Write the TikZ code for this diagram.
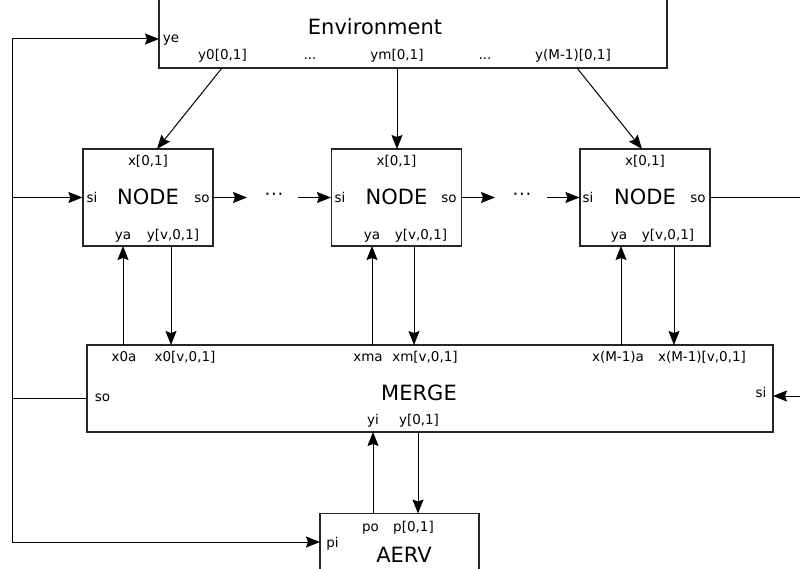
\documentclass[tikz,border=0pt]{standalone}
\usepackage{fontspec}
\setmainfont{DejaVu Sans}
\usetikzlibrary{arrows.meta}
\begin{document}
\begin{tikzpicture}[x=1pt,y=-1pt,
  box/.style={draw=black!85,line width=1.1pt,inner sep=0pt},
  lbl/.style={inner sep=0pt,anchor=base,font=\fontsize{13.5}{16}\selectfont},
  big/.style={inner sep=0pt,anchor=base,font=\fontsize{21}{24}\selectfont},
  wire/.style={line width=1pt},
  arr/.style={wire,-{Stealth[length=14pt,width=11pt,inset=2pt]}}]
\useasboundingbox (0,0) rectangle (800,569);
\clip (0,0) rectangle (800,569);

% boxes
\node[box,minimum width=508pt,minimum height=90pt] (env) at (413,23) {};
\node[box,minimum width=130pt,minimum height=97pt] (n1) at (148,197.5) {};
\node[box,minimum width=130pt,minimum height=97pt] (n2) at (396.5,197.5) {};
\node[box,minimum width=130pt,minimum height=97pt] (n3) at (645,197.5) {};
\node[box,minimum width=686pt,minimum height=87pt] (merge) at (430,388.5) {};
\node[box,minimum width=159pt,minimum height=90pt] (aerv) at (399.5,558.5) {};

% environment texts
\node[big] (envt) at (375,35) {Environment};
\node[lbl] (ye) at (171,43) {ye};
\node[lbl] (ey0) at (222.5,60) {y0[0,1]};
\node[lbl] (edots1) at (310,60) {...};
\node[lbl] (eym) at (397,60) {ym[0,1]};
\node[lbl] (edots2) at (485,60) {...};
\node[lbl] (eyM) at (573,60) {y(M-1)[0,1]};

% node texts
\foreach \n/\cx/\si/\so/\ya/\yv in {1/148/92/202/123/173, 2/396.5/340/449/372/421, 3/645/588/698/619/668}{
  \node[lbl] (x\n) at (\cx,166) {x[0,1]};
  \node[big] (t\n) at (\cx,205) {NODE};
  \node[lbl] (si\n) at (\si,203) {si};
  \node[lbl] (so\n) at (\so,203) {so};
  \node[lbl] (ya\n) at (\ya,240) {ya};
  \node[lbl] (yv\n) at (\yv,240) {y[v,0,1]};
}

% chain dots
\node[inner sep=0pt,font=\fontsize{18}{20}\selectfont] (cd1) at (274,197) {·\hspace{0.8pt}·\hspace{0.8pt}·};
\node[inner sep=0pt,font=\fontsize{18}{20}\selectfont] (cd2) at (522,197) {·\hspace{0.8pt}·\hspace{0.8pt}·};

% merge texts
\node[big] (mt) at (419,400.5) {MERGE};
\node[lbl] (mso) at (102.5,401.5) {so};
\node[lbl] (msi) at (761,397) {si};
\node[lbl] (mx0a) at (124,361) {x0a};
\node[lbl] (mx0) at (185,361) {x0[v,0,1]};
\node[lbl] (mxma) at (368,361) {xma};
\node[lbl] (mxm) at (425,361) {xm[v,0,1]};
\node[lbl] (mxMa) at (618,361) {x(M-1)a};
\node[lbl] (mxM) at (702,361) {x(M-1)[v,0,1]};
\node[lbl] (myi) at (373,424) {yi};
\node[lbl] (my) at (419,424) {y[0,1]};

% aerv texts
\node[big] (at) at (404,562) {AERV};
\node[lbl] (apo) at (370.5,531.5) {po};
\node[lbl] (ap) at (413.5,531.5) {p[0,1]};
\node[lbl] (api) at (332.5,547) {pi};

% port coordinates
\coordinate (bt) at (12,39);
\coordinate (b1) at (12,197.5);
\coordinate (b2) at (12,398);
\coordinate (bb) at (12,542);
\coordinate (envye) at (159,39);
\coordinate (mergeso) at (87,398);
\coordinate (aervpi) at (320,542);
\coordinate (e0) at (222,68);
\coordinate (em) at (397,68);
\coordinate (eM) at (577,68);
\coordinate (n1in) at (157,149);
\coordinate (n2in) at (397,149);
\coordinate (n3in) at (642,149);
\coordinate (c1a) at (247,197.5);
\coordinate (c1b) at (298,197.5);
\coordinate (c2a) at (495,197.5);
\coordinate (c2b) at (547,197.5);
\coordinate (r1) at (808,197.5);
\coordinate (r2) at (808,396);
\coordinate (mergesi) at (773,396);

% bus on the left
\draw[arr] (bb) -- (bt) -- (envye);
\draw[arr] (b1) -- (n1.west);
\draw[wire] (mergeso) -- (b2);
\draw[arr] (bb) -- (aervpi);

% environment to nodes
\draw[arr] (e0) -- (n1in);
\draw[arr] (em) -- (n2in);
\draw[arr] (eM) -- (n3in);

% chain
\draw[arr] (n1.east) -- (c1a);
\draw[arr] (c1b) -- (n2.west);
\draw[arr] (n2.east) -- (c2a);
\draw[arr] (c2b) -- (n3.west);
\draw[arr] (n3.east) -- (r1) -- (r2) -- (mergesi);

% nodes <-> merge
\foreach \n/\u/\d in {1/123/171, 2/372/414, 3/621/674}{
  \draw[arr] (\u,345) coordinate (mu\n) -- (\u,246) coordinate (nu\n);
  \draw[arr] (\d,246) coordinate (nd\n) -- (\d,345) coordinate (md\n);
}

% merge <-> aerv
\coordinate (ayi) at (373,432);
\coordinate (apo2) at (373,513.5);
\coordinate (my2) at (418,432);
\coordinate (ap2) at (418,513.5);
\draw[arr] (apo2) -- (ayi);
\draw[arr] (my2) -- (ap2);
\end{tikzpicture}
\end{document}
